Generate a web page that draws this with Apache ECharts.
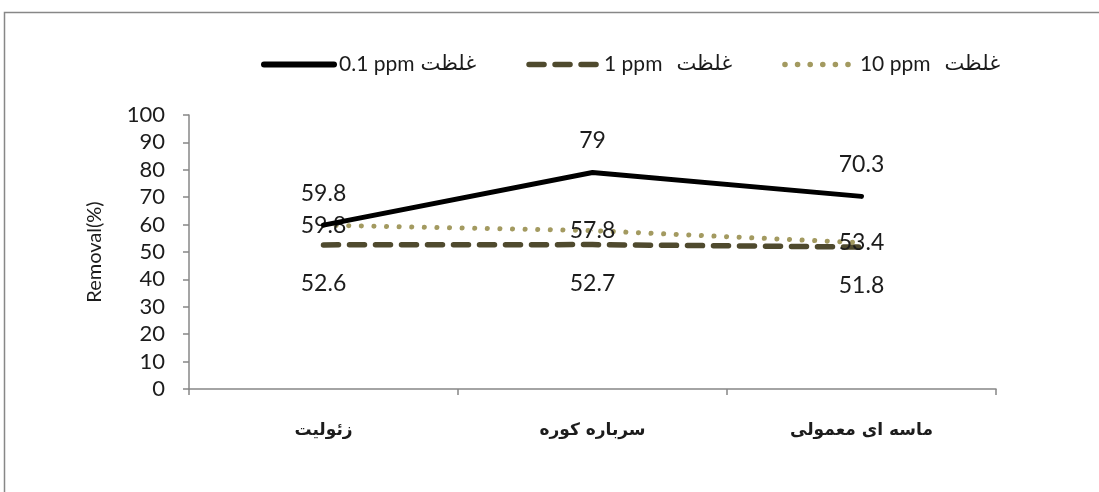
<!DOCTYPE html>
<html>
<head>
<meta charset="utf-8">
<style>
  html, body { margin: 0; padding: 0; background: #fff; }
  #chart { width: 1099px; height: 492px; }
</style>
<script src="https://cdn.jsdelivr.net/npm/echarts@6/dist/echarts.min.js"></script>
</head>
<body>
<div id="chart"></div>
<script>
// Adsorbent materials on the category axis
const categories = ['زئولیت', 'سرباره کوره', 'ماسه ای معمولی'];

// Removal percentage for each initial concentration
const removal01ppm = [59.8, 79, 70.3];
const removal1ppm = [52.6, 52.7, 51.8];
const removal10ppm = [59.8, 57.8, 53.4];

// Series names shown in the legend (concentration + the word for concentration)
const concentrations = ['0.1 ppm', '1 ppm', '10 ppm'];
const concWord = 'غلظت';
const seriesNames = concentrations.map(c => c + ' ' + concWord);

// Value axis ticks
const yMin = 0, yMax = 100, yStep = 10;

const latin = 'Lato, "DejaVu Sans", sans-serif';
const arabic = '"DejaVu Sans", sans-serif';
const axisGray = '#878787';
const colors = ['#000000', '#4f4a2e', '#a39a60'];
const lineTypes = ['solid', [15, 11], [0.1, 12.5]];
const lineWidths = [5, 5.5, 5];

const chart = echarts.init(document.getElementById('chart'));

function labelStyle(position, distance) {
  return {
    show: true,
    position: position,
    distance: distance,
    fontFamily: latin,
    fontSize: 23,
    color: '#1c1c1c'
  };
}

// Space between the concentration and the word in the legend
const legendPad = [6, 14, 14];

const legendRich = { a: { fontFamily: latin, fontSize: 21, color: '#1c1c1c' } };
legendPad.forEach((p, i) => {
  legendRich['b' + i] = { fontFamily: arabic, fontSize: 21, color: '#1c1c1c', padding: [0, 0, 0, p] };
});

chart.setOption({
  animation: false,
  backgroundColor: '#ffffff',
  graphic: [{
    type: 'rect',
    shape: { x: 4.5, y: 12.5, width: 1300, height: 700 },
    style: { fill: 'none', stroke: axisGray, lineWidth: 1.5 },
    silent: true
  }],
  legend: {
    top: 49,
    left: 256,
    itemWidth: 70,
    itemHeight: 14,
    itemGap: 50,
    itemStyle: { opacity: 0 },
    formatter: function (name) {
      const i = seriesNames.indexOf(name);
      return '{a|' + concentrations[i] + '}{b' + i + '|' + concWord + '}';
    },
    textStyle: { rich: legendRich },
    data: seriesNames.map((n, i) => ({
      name: n,
      lineStyle: { width: i === 0 ? 6 : 5.5, type: lineTypes[i], cap: 'round', color: colors[i] }
    }))
  },
  grid: {
    left: 189,
    right: 103,
    top: 115,
    bottom: 103,
    containLabel: false
  },
  xAxis: {
    type: 'category',
    data: categories,
    boundaryGap: true,
    axisLine: { lineStyle: { color: axisGray, width: 1.5 } },
    axisTick: { show: true, length: 6, lineStyle: { color: axisGray, width: 1.5 } },
    axisLabel: {
      margin: 33,
      fontFamily: arabic,
      fontWeight: 'bold',
      fontSize: 17,
      color: '#1c1c1c'
    },
    splitLine: { show: false }
  },
  yAxis: {
    type: 'value',
    min: yMin,
    max: yMax,
    interval: yStep,
    name: 'Removal(%)',
    nameLocation: 'middle',
    nameGap: 84,
    nameTextStyle: { fontFamily: latin, fontSize: 20, color: '#1c1c1c' },
    axisLine: { show: true, lineStyle: { color: axisGray, width: 1.5 } },
    axisTick: { show: true, length: 6, lineStyle: { color: axisGray, width: 1.5 } },
    axisLabel: { margin: 24, fontFamily: latin, fontSize: 22, color: '#1c1c1c' },
    splitLine: { show: false }
  },
  series: [
    {
      name: seriesNames[0],
      type: 'line',
      data: removal01ppm,
      symbol: 'circle',
      symbolSize: 1,
      itemStyle: { color: colors[0] },
      lineStyle: { color: colors[0], width: lineWidths[0], cap: 'round', join: 'round' },
      label: labelStyle('top', 20),
      z: 4
    },
    {
      name: seriesNames[1],
      type: 'line',
      data: removal1ppm,
      symbol: 'circle',
      symbolSize: 1,
      itemStyle: { color: colors[1] },
      lineStyle: { color: colors[1], width: lineWidths[1], type: lineTypes[1], cap: 'round' },
      label: labelStyle('bottom', 27),
      z: 2
    },
    {
      name: seriesNames[2],
      type: 'line',
      data: removal10ppm,
      symbol: 'circle',
      symbolSize: 1,
      itemStyle: { color: colors[2] },
      lineStyle: { color: colors[2], width: lineWidths[2], type: lineTypes[2], cap: 'round' },
      label: labelStyle('inside', 0),
      z: 3
    }
  ]
});
</script>
</body>
</html>
